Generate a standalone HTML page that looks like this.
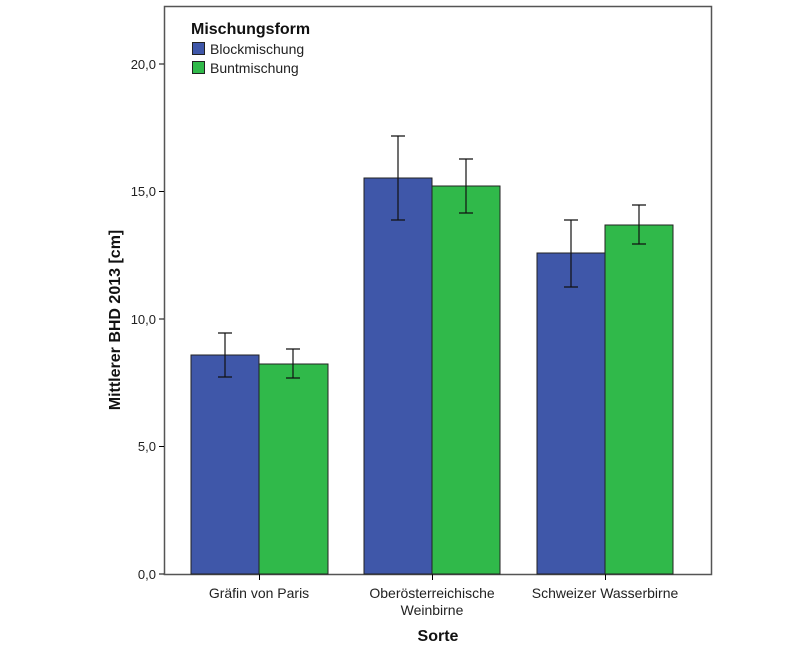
<!DOCTYPE html>
<html><head><meta charset="utf-8"><style>body{margin:0;background:#fff}</style></head><body>
<svg width="800" height="654" xmlns="http://www.w3.org/2000/svg" font-family="Liberation Sans, Arial, sans-serif">
<rect x="0" y="0" width="800" height="654" fill="#fff"/>
<rect x="164.5" y="6.5" width="547" height="568" fill="#fff" stroke="#555" stroke-width="1.5"/>
<g stroke="#000" stroke-width="1">
<line x1="159" y1="574" x2="164" y2="574"/><line x1="159" y1="446.5" x2="164" y2="446.5"/>
<line x1="159" y1="319" x2="164" y2="319"/><line x1="159" y1="191.5" x2="164" y2="191.5"/>
<line x1="159" y1="64" x2="164" y2="64"/>
<line x1="259.5" y1="574" x2="259.5" y2="580"/><line x1="432.5" y1="574" x2="432.5" y2="580"/><line x1="605.5" y1="574" x2="605.5" y2="580"/>
</g>
<g font-size="13" fill="#222" text-anchor="end">
<text x="156" y="579">0,0</text><text x="156" y="451">5,0</text><text x="156" y="324">10,0</text><text x="156" y="196">15,0</text><text x="156" y="69">20,0</text>
</g>
<g stroke="#222" stroke-width="1">
<rect x="191" y="355" width="68" height="219" fill="#3f57a9"/>
<rect x="259" y="364" width="69" height="210" fill="#30b94a"/>
<rect x="364" y="178" width="68" height="396" fill="#3f57a9"/>
<rect x="432" y="186" width="68" height="388" fill="#30b94a"/>
<rect x="537" y="253" width="68" height="321" fill="#3f57a9"/>
<rect x="605" y="225" width="68" height="349" fill="#30b94a"/>
</g>
<g stroke="#111" stroke-width="1.2" fill="none">
<path d="M225 333V377M218 333H232M218 377H232"/>
<path d="M293 349V378M286 349H300M286 378H300"/>
<path d="M398 136V220M391 136H405M391 220H405"/>
<path d="M466 159V213M459 159H473M459 213H473"/>
<path d="M571 220V287M564 220H578M564 287H578"/>
<path d="M639 205V244M632 205H646M632 244H646"/>
</g>
<g font-size="14" fill="#222" text-anchor="middle">
<text x="259" y="598">Gräfin von Paris</text>
<text x="432" y="598">Oberösterreichische</text><text x="432" y="615">Weinbirne</text>
<text x="605" y="598">Schweizer Wasserbirne</text>
</g>
<text x="438" y="641" font-size="16" font-weight="bold" text-anchor="middle" fill="#111">Sorte</text>
<text transform="translate(120,320) rotate(-90)" font-size="16" font-weight="bold" text-anchor="middle" fill="#111">Mittlerer BHD 2013 [cm]</text>
<text x="191" y="34" font-size="16" font-weight="bold" fill="#111">Mischungsform</text>
<rect x="192.5" y="42.5" width="12" height="12" fill="#3f57a9" stroke="#222"/>
<rect x="192.5" y="61.5" width="12" height="12" fill="#30b94a" stroke="#222"/>
<text x="210" y="54" font-size="14" fill="#222">Blockmischung</text>
<text x="210" y="73" font-size="14" fill="#222">Buntmischung</text>
</svg>
</body></html>
